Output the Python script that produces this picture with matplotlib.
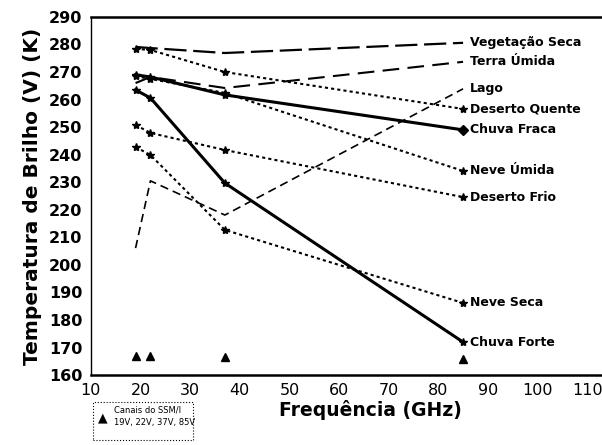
import matplotlib
matplotlib.use("Agg")
import matplotlib.pyplot as plt

plt.rcParams['font.family'] = ['DejaVu Sans']

# canais SSM/I (GHz)
freq = [19, 22, 37, 85]

veg_seca = [279.1, 278.7, 276.9, 280.6]
terra_umida = [266.0, 268.2, 264.2, 273.7]
lago = [206.1, 230.5, 218.1, 263.9]
deserto_quente = [278.4, 278.0, 270.0, 256.6]
chuva_fraca = [269.0, 268.2, 261.7, 249.0]
neve_umida = [268.5, 267.5, 262.4, 234.1]
deserto_frio = [250.8, 247.9, 241.7, 224.6]
neve_seca = [242.8, 239.9, 212.7, 186.2]
chuva_forte = [263.5, 260.6, 229.7, 172.0]

canais_y = [167.0, 167.0, 166.5, 166.0]

series = [
    ("Vegetação Seca", veg_seca, (0, (10, 3)), 1.6, None),
    ("Terra Úmida", terra_umida, (0, (8, 4)), 1.5, None),
    ("Lago", lago, (0, (5, 3)), 1.2, None),
    ("Deserto Quente", deserto_quente, (0, (1.5, 1.5)), 1.5, "*"),
    ("Chuva Fraca", chuva_fraca, "-", 2.2, "*"),
    ("Neve Úmida", neve_umida, (0, (1.5, 1.5)), 1.5, "*"),
    ("Deserto Frio", deserto_frio, (0, (1.5, 1.5)), 1.5, "*"),
    ("Neve Seca", neve_seca, (0, (1.5, 1.5)), 1.5, "*"),
    ("Chuva Forte", chuva_forte, "-", 2.2, "*"),
]

fig = plt.figure(figsize=(6.02, 4.45), dpi=100)
ax = fig.add_axes([0.151, 0.157, 0.849, 0.805])

for nome, vals, ls, lw, mk in series:
    ax.plot(freq, vals, color="black", linestyle=ls, linewidth=lw,
            marker=mk, markersize=6)
    ax.text(86.3, vals[-1], nome, fontsize=9, fontweight="bold",
            va="center", ha="left")

# marcador final da chuva fraca
ax.plot(freq[-1], chuva_fraca[-1], marker="D", color="black", markersize=5)

# canais do SSM/I
ax.plot(freq, canais_y, linestyle="none", marker="^", color="black",
        markersize=6)

ax.set_xlim(10, 113)
ax.set_ylim(160, 290)
ax.set_xticks(range(10, 120, 10))
ax.set_yticks(range(160, 300, 10))
ax.tick_params(length=0, labelsize=11.5, pad=6)
for lab in ax.get_yticklabels():
    lab.set_fontweight("bold")

ax.spines["right"].set_visible(False)
ax.spines["top"].set_linewidth(1.8)
ax.spines["bottom"].set_linewidth(1.8)
ax.spines["left"].set_linewidth(1.0)

ax.set_ylabel("Temperatura de Brilho (V) (K)", fontsize=14.5,
              fontweight="bold", labelpad=5)
ax.set_xlabel("Frequência (GHz)", fontsize=13.5, fontweight="bold")
ax.xaxis.set_label_coords(0.546, -0.07)

fig.text(0.171, 0.062, "▲", fontsize=9, va="center", ha="center")
fig.text(0.19, 0.065, "Canais do SSM/I\n19V, 22V, 37V, 85V", fontsize=6,
         va="center", ha="left", linespacing=1.5)
fig.patches.append(plt.Rectangle((0.155, 0.012), 0.165, 0.085,
                                 transform=fig.transFigure, fill=False,
                                 linestyle=":", linewidth=0.8,
                                 edgecolor="black"))

fig.savefig("out.png", dpi=100)
